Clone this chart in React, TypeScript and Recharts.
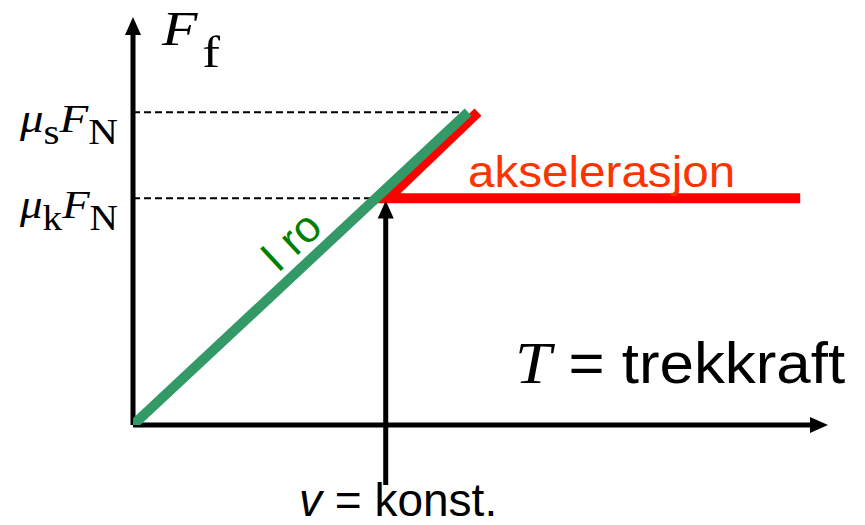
import { LineChart, Line, XAxis, YAxis, ReferenceLine, ReferenceDot } from 'recharts';

// friction force F_f against pulling force T (in units of the kinetic friction point)
const restT = [0, 1.326];
const restF = [0, 1.38];
const slideT = [1.365, 1.009, 2.64];
const slideF = [1.38, 1.0, 1.0];
const frictionTicks = [1.0, 1.38];
const frictionSubs = ['k', 's'];
const constT = 1.0;

const rest = restT.map((t, i) => ({ t, f: restF[i] }));
const slide = slideT.map((t, i) => ({ t, f: slideF[i] }));

const serif = '"Liberation Serif", "DejaVu Serif", serif';
const sans = '"Liberation Sans", Arial, sans-serif';

const arrow = (p: any) => {
  const { x1, y1, x2, y2 } = p;
  const dx = x2 - x1;
  const dy = y2 - y1;
  const len = Math.hypot(dx, dy) || 1;
  const ux = dx / len;
  const uy = dy / len;
  const L = 18;
  const W = 8;
  const bx = x2 - ux * L;
  const by = y2 - uy * L;
  return (
    <g>
      <line x1={x1} y1={y1} x2={bx + ux * 2} y2={by + uy * 2} stroke="#000" strokeWidth={5} />
      <polygon
        points={`${x2},${y2} ${bx - uy * W},${by + ux * W} ${bx + uy * W},${by - ux * W}`}
        fill="#000"
      />
    </g>
  );
};

const FrictionTick = ({ x, y, payload }: any) => {
  const i = frictionTicks.indexOf(payload.value);
  return (
    <text
      x={x}
      y={y + 20}
      textAnchor="end"
      fontFamily={serif}
      fontSize={40}
      fill="#000"
      textLength={98}
      lengthAdjust="spacingAndGlyphs"
    >
      <tspan fontStyle="italic">μ</tspan>
      <tspan fontSize={35} dy={12}>{frictionSubs[i]}</tspan>
      <tspan fontStyle="italic" dy={-12}>F</tspan>
      <tspan fontSize={35} dy={12}>N</tspan>
    </text>
  );
};

const at = (draw: (x: number, y: number) => any) => ({
  content: (props: any) => draw(props.viewBox.x, props.viewBox.y),
});

export default function App() {
  return (
    <div style={{ position: 'absolute', left: 0, top: 0, background: '#fff' }}>
      <LineChart width={865} height={525} margin={{ top: 17, right: 37, bottom: 100, left: 132 }}>
        <XAxis type="number" dataKey="t" domain={[0, 2.75]} allowDataOverflow hide />
        <YAxis
          type="number"
          domain={[0, 1.8]}
          allowDataOverflow
          ticks={frictionTicks}
          interval={0}
          width={1}
          axisLine={false}
          tickLine={false}
          tickSize={0}
          tickMargin={15}
          tick={<FrictionTick />}
        />

        <ReferenceLine segment={[{ x: 0, y: 0 }, { x: 2.75, y: 0 }]} shape={arrow} ifOverflow="visible" />
        <ReferenceLine segment={[{ x: 0, y: 0 }, { x: 0, y: 1.8 }]} shape={arrow} ifOverflow="visible" />

        <ReferenceLine
          segment={[{ x: 0, y: restF[1] }, { x: 1.306, y: restF[1] }]}
          stroke="#000"
          strokeWidth={2}
          strokeDasharray="7 4"
          ifOverflow="visible"
        />
        <ReferenceLine
          segment={[{ x: 0, y: slideF[1] }, { x: 0.977, y: slideF[1] }]}
          stroke="#000"
          strokeWidth={2}
          strokeDasharray="7 4"
          ifOverflow="visible"
        />

        <Line
          data={slide}
          dataKey="f"
          type="linear"
          stroke="#ff0000"
          strokeWidth={10}
          dot={false}
          activeDot={false}
          isAnimationActive={false}
        />
        <Line
          data={rest}
          dataKey="f"
          type="linear"
          stroke="#339966"
          strokeWidth={10}
          dot={false}
          activeDot={false}
          isAnimationActive={false}
        />

        <ReferenceLine
          segment={[{ x: constT, y: -0.265 }, { x: constT, y: 0.99 }]}
          shape={arrow}
          ifOverflow="visible"
        />

        <ReferenceDot
          x={0.115}
          y={1.676}
          r={0}
          fill="none"
          stroke="none"
          ifOverflow="visible"
          label={at((x, y) => (
            <text
              x={x}
              y={y}
              fontFamily={serif}
              fontSize={48}
              fill="#000"
              textLength={58}
              lengthAdjust="spacingAndGlyphs"
            >
              <tspan fontStyle="italic">F</tspan>
              <tspan fontSize={44} dx={4} dy={22}>f</tspan>
            </text>
          ))}
        />
        <ReferenceDot
          x={1.512}
          y={0.185}
          r={0}
          fill="none"
          stroke="none"
          ifOverflow="visible"
          label={at((x, y) => (
            <text
              x={x}
              y={y}
              fontFamily={sans}
              fontSize={57}
              fill="#000"
              textLength={330}
              lengthAdjust="spacingAndGlyphs"
            >
              <tspan fontFamily={serif} fontStyle="italic" fontSize={60}>T</tspan>
              <tspan>{' = trekkraft'}</tspan>
            </text>
          ))}
        />
        <ReferenceDot
          x={1.326}
          y={1.05}
          r={0}
          fill="none"
          stroke="none"
          ifOverflow="visible"
          label={at((x, y) => (
            <text
              x={x}
              y={y}
              fontFamily={sans}
              fontSize={45}
              fill="#ff3300"
              textLength={267}
              lengthAdjust="spacingAndGlyphs"
            >
              akselerasjon
            </text>
          ))}
        />
        <ReferenceDot
          x={constT + 0.049}
          y={-0.4}
          r={0}
          fill="none"
          stroke="none"
          ifOverflow="visible"
          label={at((x, y) => (
            <text x={x} y={y} fontFamily={sans} fontSize={46} fill="#000" textAnchor="middle">
              <tspan fontStyle="italic">v</tspan>
              <tspan>{' = konst.'}</tspan>
            </text>
          ))}
        />
        <ReferenceDot
          x={0.665}
          y={0.763}
          r={0}
          fill="none"
          stroke="none"
          ifOverflow="visible"
          label={at((x, y) => (
            <text
              x={x}
              y={y}
              fontFamily={sans}
              fontSize={44}
              fill="#008000"
              textAnchor="middle"
              transform={`rotate(-43 ${x} ${y})`}
            >
              I ro
            </text>
          ))}
        />
      </LineChart>
    </div>
  );
}
